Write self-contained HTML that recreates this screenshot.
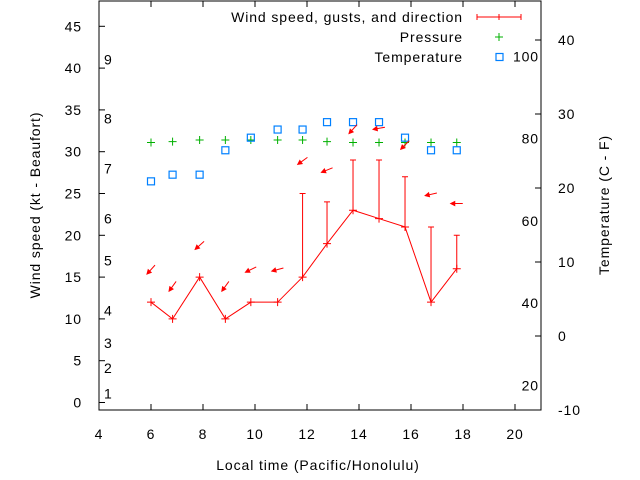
<!DOCTYPE html>
<html><head><meta charset="utf-8"><style>
body{margin:0;background:#fff}
svg{display:block;font-family:"Liberation Sans",sans-serif;font-size:14px;letter-spacing:0.9px}
</style></head><body>
<svg id="c" width="640" height="480"></svg>
<script>
const times=[6.0,6.83,7.87,8.86,9.84,10.87,11.83,12.77,13.77,14.77,15.77,16.77,17.76];
const wind=[12,10,15,10,12,12,15,19,23,22,21,12,16];
const gusts=[null,null,null,null,null,null,25,24,29,29,27,21,20];
const pressure=[31.1,31.2,31.4,31.4,31.4,31.4,31.4,31.2,31.1,31.1,31.1,31.1,31.1];
const tempC=[20.9,21.8,21.8,25.1,26.8,27.9,27.9,28.9,28.9,28.9,26.8,25.1,25.1];
const arrowLevel=[15.9,13.9,18.8,13.9,15.9,15.9,28.9,27.8,32.7,32.8,30.8,24.9,23.8];
const arrowAngle=[228,234,222,234,206,195,216,202,228,190,225,193,180];
const xTicks=[4,6,8,10,12,14,16,18,20];
const yTicks=[0,5,10,15,20,25,30,35,40,45];
const y2Ticks=[-10,0,10,20,30,40];
const fTicks=[20,40,60,80,100];
const bftLabels=[1,2,3,4,5,6,7,8,9];
const bftLevels=[1.1,4.1,7.1,11,17,22,28,34,41];

const L=99,R=541,T=1,B=410;
const xs=v=>L+(v-4)*(R-L)/17;
const ys=v=>402.5-v*8.36;
const yt=c=>336-c*7.4;
const svg=document.getElementById('c');
const NS='http://www.w3.org/2000/svg';
function mk(tag,at,parent){const e=document.createElementNS(NS,tag);for(const k in at)e.setAttribute(k,at[k]);(parent||svg).appendChild(e);return e;}

let e=mk('rect',{x:L,y:T,width:R-L,height:B-T,fill:'none',stroke:'#000','stroke-width':1});



xTicks.forEach(v=>{
  const x=xs(v);
  let t=mk('line',{x1:x,x2:x,y1:B,y2:B-6,stroke:'#000'});
  
  
  mk('line',{x1:x,x2:x,y1:T,y2:T+6,stroke:'#000'});
  let l=mk('text',{x:x,y:439,'text-anchor':'middle'});l.textContent=v;
  
  
});
yTicks.forEach(v=>{
  const y=ys(v);
  let t=mk('line',{x1:L,x2:L+6,y1:y,y2:y,stroke:'#000'});
  
  
  let l=mk('text',{x:82,y:y+5,'text-anchor':'end'});l.textContent=v;
  
  
});
y2Ticks.forEach(v=>{
  const y=yt(v);
  let t=mk('line',{x1:R,x2:R-6,y1:y,y2:y,stroke:'#000'});
  
  
  let l=mk('text',{x:558,y:y+5});l.textContent=v;
  
  
});
fTicks.forEach(v=>{
  let l=mk('text',{x:539,y:yt((v-32)*5/9)+5,'text-anchor':'end'});l.textContent=v;
  
  
});
bftLabels.forEach((v,i)=>{
  let l=mk('text',{x:104,y:ys(bftLevels[i])+5});l.textContent=v;
  
  
});

let pl=mk('polyline',{points:times.map((t,i)=>xs(t)+','+ys(wind[i])).join(' '),fill:'none',stroke:'#f00','stroke-width':1});


times.forEach((t,i)=>{
  const x=xs(t),y=ys(wind[i]);
  let m=mk('path',{d:`M${x-4},${y}h8M${x},${y-4}v8`,stroke:'#f00'});
  
  
  if(gusts[i]!=null){
    const g=ys(gusts[i]);
    let b=mk('path',{d:`M${x},${y}V${g}M${x-3},${g}h6`,stroke:'#f00',fill:'none'});
    
    
  }
  const py=ys(pressure[i]);
  let p=mk('path',{d:`M${x-4},${py}h8M${x},${py-4}v8`,stroke:'#00b000'});
  
  
  let s=mk('rect',{x:x-3.5,y:yt(tempC[i])-3.5,width:7,height:7,fill:'none',stroke:'#0080ff','stroke-width':1.2});
  
  
  const a=arrowAngle[i]*Math.PI/180,len=12;
  const cx=x,cy=ys(arrowLevel[i]);
  const dx=Math.cos(a)*len/2,dy=-Math.sin(a)*len/2;
  const hx=cx+dx,hy=cy+dy,tx=cx-dx,ty=cy-dy;
  const ux=Math.cos(a),uy=-Math.sin(a);
  const h1x=hx-ux*4+uy*2,h1y=hy-uy*4-ux*2,h2x=hx-ux*4-uy*2,h2y=hy-uy*4+ux*2;
  let ar=mk('path',{d:`M${tx},${ty}L${hx},${hy}M${hx},${hy}L${h1x},${h1y}L${h2x},${h2y}Z`,stroke:'#f00',fill:'#f00','stroke-width':1});
  
  
});

const lg=mk('g',{});


[['Wind speed, gusts, and direction',22],['Pressure',42],['Temperature',62]].forEach(([t,y])=>{
  let l=mk('text',{x:463,y:y,'text-anchor':'end'},lg);l.textContent=t;
  
  
});
mk('path',{d:'M477,17h44M477,14v6M521,14v6M499,14v6',stroke:'#f00'},lg);
mk('path',{d:'M495,37h8M499,33v8',stroke:'#00b000'},lg);
mk('rect',{x:496,y:53.5,width:7,height:7,fill:'none',stroke:'#0080ff','stroke-width':1.2},lg);

let xl=mk('text',{x:318,y:470,'text-anchor':'middle'});xl.textContent='Local time (Pacific/Honolulu)';


let yl=mk('text',{x:0,y:0,'text-anchor':'middle',transform:'translate(40,205) rotate(-90)'});yl.textContent='Wind speed (kt - Beaufort)';


let y2=mk('text',{x:0,y:0,'text-anchor':'middle',transform:'translate(609,205) rotate(-90)'});y2.textContent='Temperature (C - F)';


</script>
</body></html>
